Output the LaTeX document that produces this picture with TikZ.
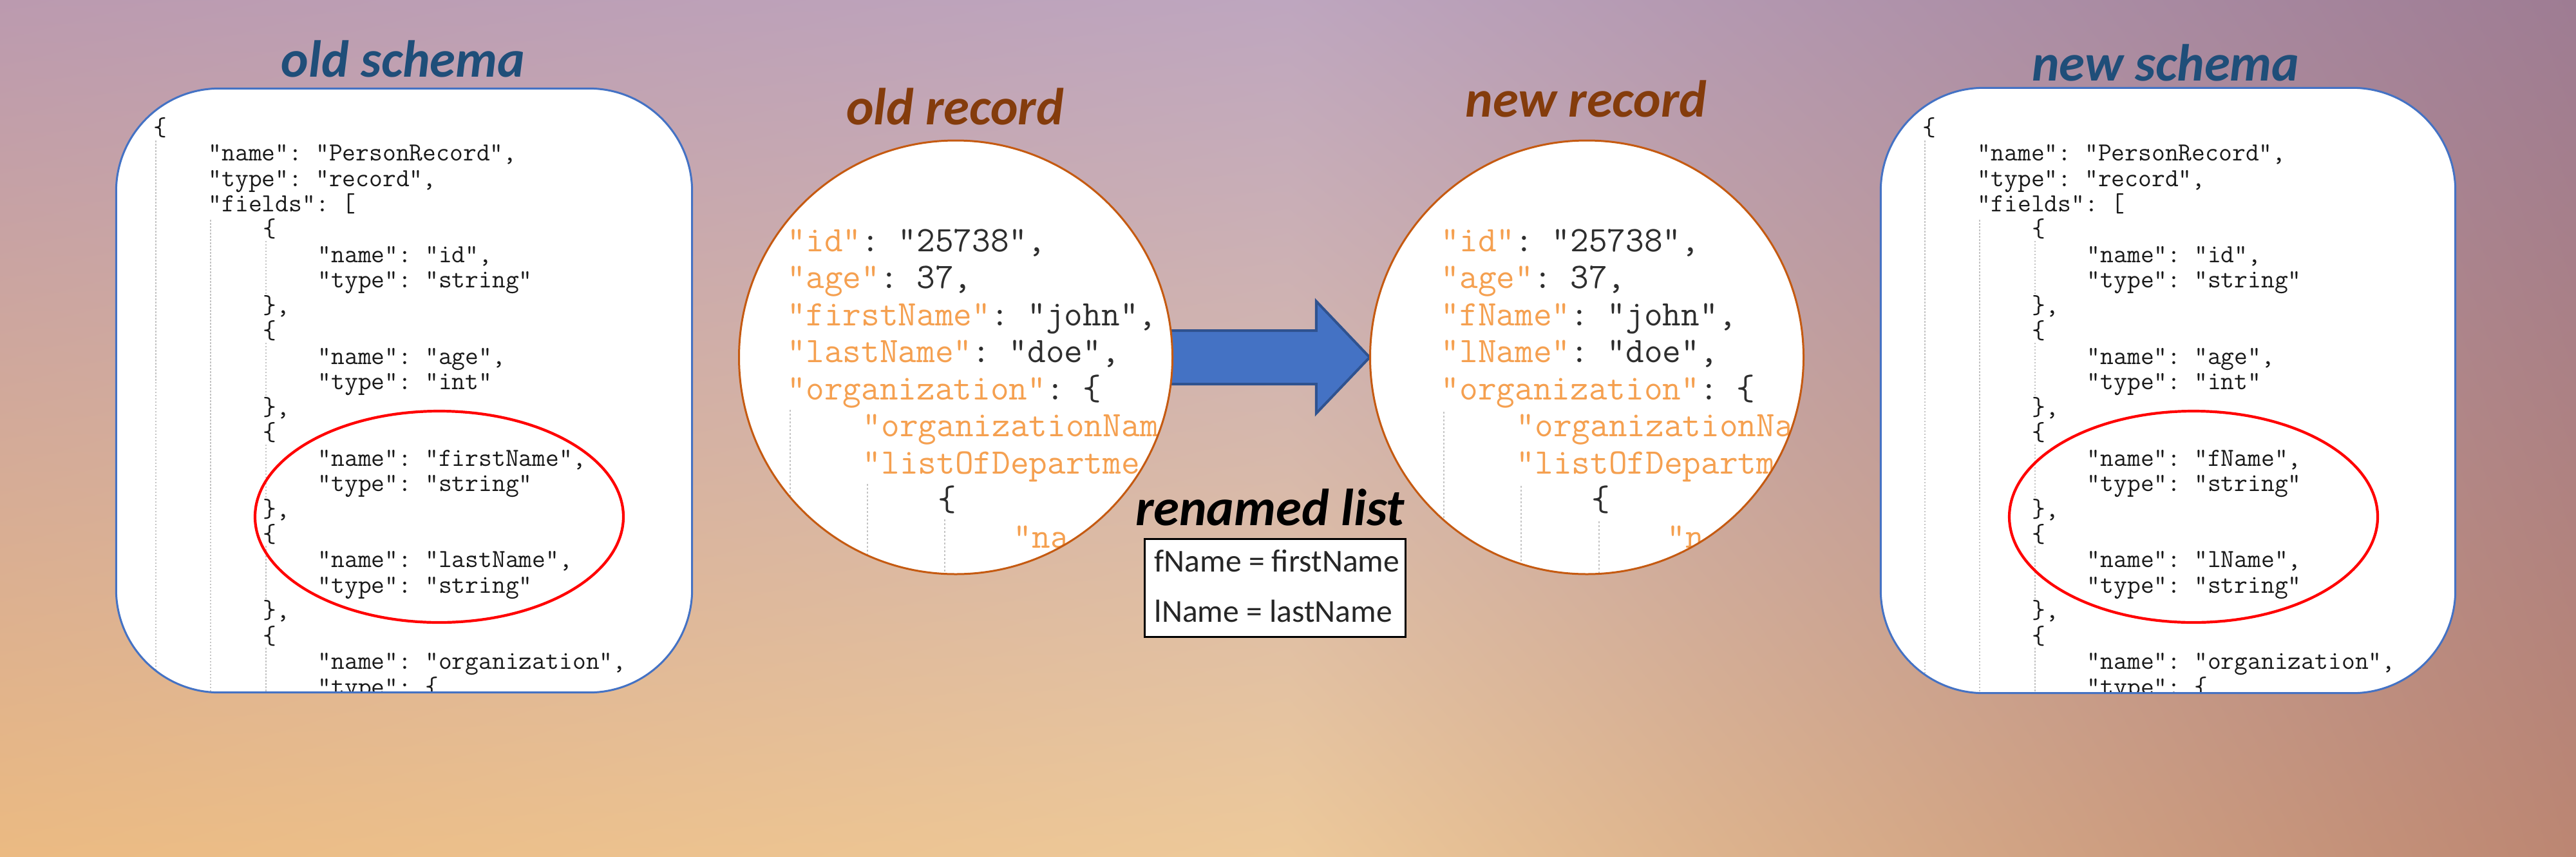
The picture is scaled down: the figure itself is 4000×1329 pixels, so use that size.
\documentclass[tikz,border=0pt]{standalone}
\usepackage{fontspec}
\usetikzlibrary{calc,shapes.geometric,shadings}
\newfontfamily\calfont{Carlito}
\newcommand\codefont{\ttfamily}
\definecolor{bgTL}{HTML}{BB9AAF}
\definecolor{bgTM}{HTML}{BEA6BF}
\definecolor{bgTR}{HTML}{9E7C93}
\definecolor{bgBL}{HTML}{EBBA82}
\definecolor{bgBM}{HTML}{EDC99A}
\definecolor{bgBR}{HTML}{BC8672}
\definecolor{schemablue}{HTML}{1F4E79}
\definecolor{recbrown}{HTML}{843C0C}
\definecolor{boxblue}{HTML}{4472C4}
\definecolor{arrowline}{HTML}{2F528F}
\definecolor{circline}{HTML}{C55A11}
\definecolor{keyorange}{HTML}{F5A050}
\definecolor{valgray}{HTML}{2E2E2E}
\definecolor{codegray}{HTML}{1A1A1A}
\definecolor{guidegray}{HTML}{C4C4C4}
\newcommand\K[1]{\textcolor{keyorange}{#1}}
\pgfdeclarelayer{bglayer}
\pgfdeclarelayer{arrlayer}
\pgfsetlayers{bglayer,arrlayer,main}
\newcommand\schemacode[4]{%
  \foreach \l/\t [count=\i] in {0/{\{}, 1/{"name": "PersonRecord",}, 1/{"type": "record",}, 1/{"fields": [},
    2/{\{}, 3/{"name": "id",}, 3/{"type": "string"}, 2/{\},},
    2/{\{}, 3/{"name": "age",}, 3/{"type": "int"}, 2/{\},},
    2/{\{}, 3/{"name": "#3",}, 3/{"type": "string"}, 2/{\},},
    2/{\{}, 3/{"name": "#4",}, 3/{"type": "string"}, 2/{\},},
    2/{\{}, 3/{"name": "organization",}, 3/{"type": \{}}
    \node[codeS] (#2-\i) at ({#1+85*\l},{210.1+39.46*(\i-1)}) {\t};
  \draw[guideS] ({#1+4},218) -- ({#1+4},1100);
  \draw[guideS] ({#1+89},341) -- ({#1+89},1100);
  \foreach \s in {5,9,13,17}
    \draw[guideS] ({#1+175},{210.1+39.46*(\s-1)+6}) -- ({#1+175},{210.1+39.46*(\s+2)-28});
  \draw[guideS] ({#1+175},{210.1+39.46*20+6}) -- ({#1+175},1100);
}
\begin{document}
\begin{tikzpicture}[x=0.1mm,y=-0.1mm,
  title/.style={font=\calfont\bfseries\itshape\fontsize{23}{27}\selectfont, inner sep=0, anchor=base},
  schbox/.style={rectangle, rounded corners=16mm, fill=white, inner sep=0},
  schline/.style={draw=boxblue, line width=0.3mm, rounded corners=16mm},
  redring/.style={ellipse, draw=red, line width=0.42mm, inner sep=0, minimum width=57.2mm, minimum height=32.8mm},
  reccirc/.style={circle, fill=white, inner sep=0, minimum size=67.3mm},
  recline/.style={draw=circline, line width=0.3mm},
  codeS/.style={inner sep=0, anchor=base west, text=codegray, font=\codefont\fontsize{11.5}{13}\selectfont\frenchspacing},
  codeR/.style={inner sep=0, anchor=base west, text=valgray, font=\codefont\fontsize{15.85}{18}\selectfont\frenchspacing},
  guideS/.style={draw=guidegray, line width=0.15mm, dash pattern=on 0.25mm off 0.25mm},
  guideR/.style={draw=guidegray, line width=0.2mm, dash pattern=on 0.3mm off 0.3mm},
  blockarrow/.style={fill=boxblue, draw=arrowline, line width=0.4mm, line join=miter},
  listbox/.style={rectangle, draw=black, line width=0.3mm, fill=white, inner sep=0, minimum width=40.5mm, minimum height=15.2mm},
  listtext/.style={font=\calfont\fontsize{14.1}{17}\selectfont, text=black!85, inner sep=0, anchor=base west}]
\useasboundingbox (0,0) rectangle (4000,1329);
\begin{pgfonlayer}{bglayer}
  \shade[upper left=bgTL, upper right=bgTM, lower left=bgBL, lower right=bgBM] (0,0) rectangle (2002,1329);
  \shade[upper left=bgTM, upper right=bgTR, lower left=bgBM, lower right=bgBR] (2000,0) rectangle (4000,1329);
\end{pgfonlayer}

% titles
\node[title, text=schemablue] (toldsch) at (626,119) {old schema};
\node[title, text=schemablue] (tnewsch) at (3363,125) {new schema};
\node[title, text=recbrown] (toldrec) at (1483,193) {old record};
\node[title, text=recbrown] (tnewrec) at (2463,181) {new record};

% old schema
\node[schbox, minimum width=89.3mm, minimum height=93.6mm] (oldsch) at (627.5,606) {};
\begin{scope}
  \clip[rounded corners=16mm] (oldsch.north west) rectangle (oldsch.south east);
  \schemacode{238}{os}{firstName}{lastName}
\end{scope}
\draw[schline] (oldsch.north west) rectangle (oldsch.south east);
\node[redring] (oldring) at (682,802) {};

% new schema
\node[schbox, minimum width=89.1mm, minimum height=93.8mm] (newsch) at (3366.5,606) {};
\begin{scope}
  \clip[rounded corners=16mm] (newsch.north west) rectangle (newsch.south east);
  \schemacode{2985}{ns}{fName}{lName}
\end{scope}
\draw[schline] (newsch.north west) rectangle (newsch.south east);
\node[redring] (newring) at (3406,802) {};

% old record
\node[reccirc] (oldrec) at (1484,554.5) {};
\begin{scope}
  \clip (oldrec.center) circle[radius=33.65mm];
  \foreach \l/\t [count=\i] in {0/{\K{"id"}: "25738",}, 0/{\K{"age"}: 37,}, 0/{\K{"firstName"}: "john",},
      0/{\K{"lastName"}: "doe",}, 0/{\K{"organization"}: \{}, 1/{\K{"organizationNam}}, 1/{\K{"listOfDepartme}},
      2/{\{}, 3/{\K{"na}}}
    \node[codeR] (or-\i) at ({1222+117*\l},{390+57.5*(\i-1)}) {\t};
  \draw[guideR] (1227,636) -- (1227,900);
  \draw[guideR] (1347,751) -- (1347,900);
  \draw[guideR] (1467,806) -- (1467,900);
\end{scope}
\draw[recline] (oldrec.center) circle[radius=33.65mm];

% new record
\node[reccirc] (newrec) at (2464,554.5) {};
\begin{scope}
  \clip (newrec.center) circle[radius=33.65mm];
  \foreach \l/\t [count=\i] in {0/{\K{"id"}: "25738",}, 0/{\K{"age"}: 37,}, 0/{\K{"fName"}: "john",},
      0/{\K{"lName"}: "doe",}, 0/{\K{"organization"}: \{}, 1/{\K{"organizationNa}}, 1/{\K{"listOfDepartm}},
      2/{\{}, 3/{\K{"n}}}
    \node[codeR] (nr-\i) at ({2237+117*\l},{390+57.5*(\i-1)}) {\t};
  \draw[guideR] (2242,639) -- (2242,900);
  \draw[guideR] (2362,754) -- (2362,900);
  \draw[guideR] (2483,809) -- (2483,900);
\end{scope}
\draw[recline] (newrec.center) circle[radius=33.65mm];

% block arrow
\coordinate (as) at (oldrec.east);
\coordinate (at) at (newrec.west);
\begin{pgfonlayer}{arrlayer}
  \draw[blockarrow] ($(as)+(-30,-41.5)$) -- ($(at)+(-83,-41.5)$) -- ($(at)+(-83,-87)$) -- (at)
    -- ($(at)+(-83,87)$) -- ($(at)+(-83,41.5)$) -- ($(as)+(-30,41.5)$) -- cycle;
\end{pgfonlayer}

% renamed list
\node[title, text=black] (trename) at (1972,815) {renamed list};
\node[listbox] (rlist) at (1979.5,912) {};
\node[listtext] (rl1) at (1792,887) {fName = firstName};
\node[listtext] (rl2) at (1792,965) {lName = lastName};
\end{tikzpicture}
\end{document}
